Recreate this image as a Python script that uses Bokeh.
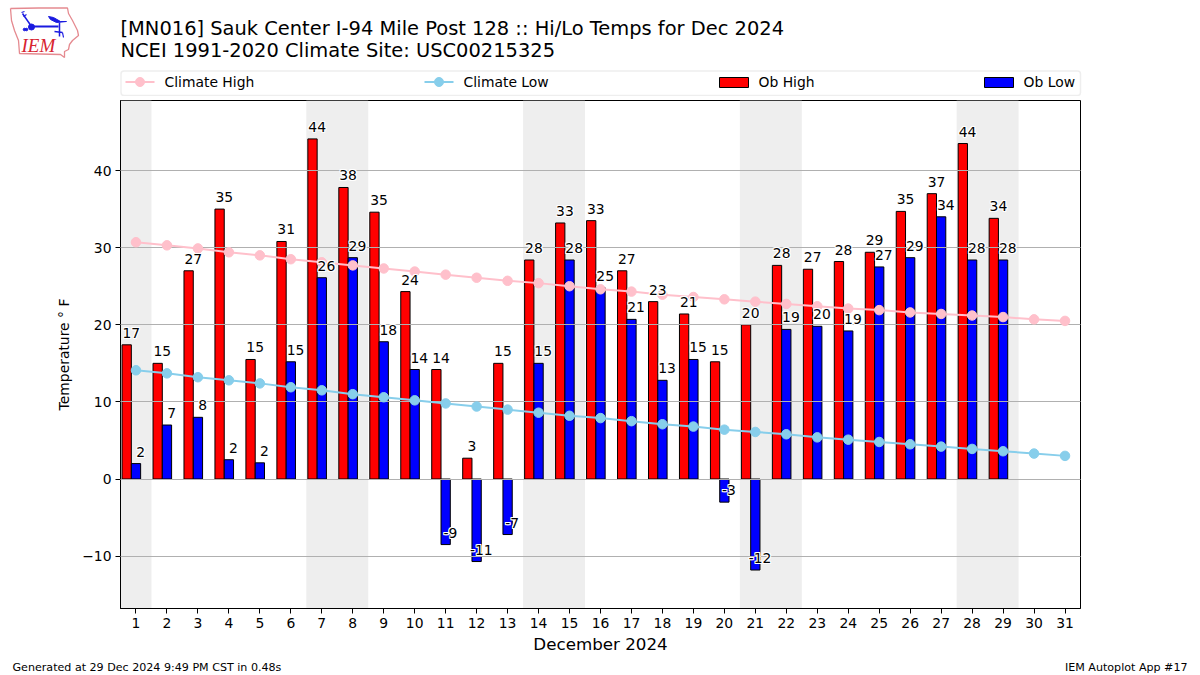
from bokeh.plotting import figure
from bokeh.layouts import column, row
from bokeh.models import Range1d, BoxAnnotation, ColumnDataSource
from bokeh.core.properties import value
from bokeh.embed import file_html
from bokeh.resources import INLINE

FONT = value("DejaVu Sans")

days = list(range(1, 32))
ob_days = list(range(1, 30))
ob_high = [17.4, 15.0, 27.0, 35.0, 15.5, 30.8, 44.1, 37.8, 34.6, 24.3, 14.2, 2.7, 15.0, 28.4, 33.2,
           33.5, 27.0, 23.0, 21.4, 15.2, 20.0, 27.7, 27.2, 28.2, 29.4, 34.7, 37.0, 43.5, 33.8]
ob_low = [2.0, 7.0, 8.0, 2.5, 2.1, 15.2, 26.1, 28.7, 17.8, 14.2, -8.5, -10.7, -7.2, 15.0, 28.4,
          24.8, 20.7, 12.8, 15.5, -3.0, -11.8, 19.4, 19.8, 19.2, 27.5, 28.7, 34.0, 28.4, 28.4]
high_labels = ["17", "15", "27", "35", "15", "31", "44", "38", "35", "24", "14", "3", "15", "28", "33",
               "33", "27", "23", "21", "15", "20", "28", "27", "28", "29", "35", "37", "44", "34"]
low_labels = ["2", "7", "8", "2", "2", "15", "26", "29", "18", "14", "-9", "-11", "-7", "15", "28",
              "25", "21", "13", "15", "-3", "-12", "19", "20", "19", "27", "29", "34", "28", "28"]
climate_high = [30.7, 30.3, 29.9, 29.4, 29.0, 28.5, 28.1, 27.7, 27.3, 26.9, 26.5, 26.1, 25.7, 25.4, 25.0,
                24.6, 24.3, 23.9, 23.6, 23.3, 23.0, 22.7, 22.4, 22.1, 21.9, 21.6, 21.4, 21.2, 21.0, 20.7, 20.5]
climate_low = [14.1, 13.7, 13.2, 12.8, 12.4, 11.9, 11.5, 11.0, 10.6, 10.2, 9.8, 9.4, 9.0, 8.6, 8.2,
               7.9, 7.5, 7.1, 6.8, 6.4, 6.1, 5.8, 5.4, 5.1, 4.8, 4.5, 4.2, 3.9, 3.6, 3.3, 3.0]
weekend_left = [0.5, 6.5, 13.5, 20.5, 27.5]
weekend_right = [1.5, 8.5, 15.5, 22.5, 29.5]
x_ticks = list(range(1, 32))
y_ticks = [-10, 0, 10, 20, 30, 40]

TITLE_1 = "[MN016] Sauk Center I-94 Mile Post 128 :: Hi/Lo Temps for Dec 2024"
TITLE_2 = "NCEI 1991-2020 Climate Site: USC00215325"


def pixel_figure(width, height, x_left, y_top):
    f = figure(width=width, height=height, x_range=Range1d(x_left, x_left + width),
               y_range=Range1d(y_top + height, y_top),
               output_backend="svg", toolbar_location=None, x_axis_location=None, y_axis_location=None,
               min_border=0, outline_line_color=None)
    f.grid.visible = False
    return f


# ---------- header: logo, titles, legend ----------
h = pixel_figure(1200, 96, 0, 0)

outline_x = [10, 38, 67, 68, 72, 77, 78, 72, 69, 68, 64, 64, 60, 19, 18, 14, 11, 10]
outline_y = [8, 7.5, 7.5, 13, 20, 30, 35, 40, 44, 49, 51, 57, 54, 53, 40, 30, 20, 8]
h.line(outline_x, outline_y, line_color="#e58a90", line_width=1.3)
h.line([31, 58], [26, 26], line_color="#1a1ae0", line_width=2)
h.line([31, 22], [26, 13], line_color="#1a1ae0", line_width=1.5)
h.line([21, 24], [12, 11], line_color="#1a1ae0", line_width=1.2)
h.line([23, 26], [16, 14], line_color="#1a1ae0", line_width=1.2)
h.scatter([31], [26.5], size=6, color="#1a1ae0")
h.scatter([24, 26], [29, 29], size=2.5, color="#1a1ae0")
h.patch([48, 53, 60, 66, 56, 50], [16, 17, 21, 21, 22, 19], color="#1a1ae0")
h.line([59, 59], [22, 36], line_color="#1a1ae0", line_width=1.5)
h.line([54, 62], [31, 32], line_color="#1a1ae0", line_width=1.5)
h.line([62, 63], [32, 37], line_color="#1a1ae0", line_width=1.2)
h.text([21], [45], text=["IEM"], text_font=value("Liberation Serif"), text_font_style="italic",
       text_font_size="19px", text_color="#d8232f", text_baseline="alphabetic")

h.text([120, 120], [28, 50], text=[TITLE_1, TITLE_2], text_font=FONT, text_font_size="19.45px",
       text_color="black", text_baseline="alphabetic")

h.add_layout(BoxAnnotation(left=120.5, right=1080, top=70.5, bottom=95, border_radius=3, level="underlay",
                           fill_color="white", fill_alpha=0.8, line_color="#c8c8c8", line_width=1.5))
h.line([125, 154], [81.5, 81.5], line_color="pink", line_width=2)
h.scatter([139.5], [81.5], size=9, color="pink")
h.line([424, 453], [81.5, 81.5], line_color="skyblue", line_width=2)
h.scatter([438.5], [81.5], size=9, color="skyblue")
h.quad(left=[719], right=[748], top=[77], bottom=[87], fill_color="red", line_color="black", line_width=1)
h.quad(left=[984], right=[1013], top=[77], bottom=[87], fill_color="blue", line_color="black", line_width=1)
h.text([164, 463, 758, 1023], [81.5] * 4, text=["Climate High", "Climate Low", "Ob High", "Ob Low"],
       text_font=FONT, text_font_size="13.9px", text_color="black", text_baseline="alphabetic")

# ---------- main chart ----------
p = figure(frame_width=960, frame_height=508, min_border_left=120, min_border_right=120, min_border_top=4,
           min_border_bottom=46, x_range=Range1d(0.5, 31.5), y_range=Range1d(-16.79, 49.08),
           output_backend="svg", toolbar_location=None, outline_line_color="black", outline_line_width=1)

p.quad(left=weekend_left, right=weekend_right, top=49.08, bottom=-16.79, fill_color="#eeeeee", line_color=None,
       level="underlay")

high_src = ColumnDataSource(dict(x=[d - 0.30 for d in ob_days], top=ob_high))
low_src = ColumnDataSource(dict(x=ob_days, top=ob_low))
p.vbar(x="x", top="top", bottom=0, width=0.30, source=high_src, fill_color="red", line_color="black", line_width=1)
p.vbar(x="x", top="top", bottom=0, width=0.30, source=low_src, fill_color="blue", line_color="black", line_width=1)

for series, col in ((climate_high, "pink"), (climate_low, "skyblue")):
    p.line(days, series, line_color=col, line_width=2, level="annotation")
    p.scatter(days, series, size=9.5, color=col, level="annotation")

for dx, vals, labels in ((-0.15, ob_high, high_labels), (0.15, ob_low, low_labels)):
    xs = [d + dx for d in ob_days]
    for ox, oy in ((-1, 0), (1, 0), (0, -1), (0, 1), (-1, -1), (1, -1), (-1, 1), (1, 1)):
        p.text(xs, vals, text=labels, text_font=FONT, text_font_size="13.9px", text_color="white",
               text_align="center", text_baseline="alphabetic", x_offset=ox, y_offset=-12 + oy, level="overlay")
    p.text(xs, vals, text=labels, text_font=FONT, text_font_size="13.9px", text_color="black",
           text_align="center", text_baseline="alphabetic", y_offset=-12, level="overlay")

p.xgrid.visible = False
p.ygrid.ticker = y_ticks
p.ygrid.grid_line_color = "#b0b0b0"
p.ygrid.grid_line_width = 1
p.ygrid.level = "guide"

p.xaxis.ticker = x_ticks
p.yaxis.ticker = y_ticks
for ax in (p.xaxis[0], p.yaxis[0]):
    ax.major_tick_out = 5
    ax.major_tick_in = 0
    ax.minor_tick_out = 0
    ax.minor_tick_in = 0
    ax.axis_line_color = "black"
    ax.major_tick_line_color = "black"
    ax.major_label_text_font = "DejaVu Sans"
    ax.major_label_text_font_size = "13.9px"
    ax.major_label_text_color = "black"
    ax.major_label_standoff = 4
    ax.axis_label_text_font = "DejaVu Sans"
    ax.axis_label_text_font_style = "normal"
    ax.axis_label_text_color = "black"
p.xaxis.axis_label = "December 2024"
p.xaxis.axis_label_text_font_size = "16.7px"
p.xaxis.axis_label_standoff = 3
p.yaxis.axis_label = "Temperature \u00b0 F"
p.yaxis.axis_label_text_font_size = "13.9px"
p.yaxis.axis_label_standoff = 7

# ---------- footer ----------
f = pixel_figure(1200, 21, 0, 654)
f.text([12], [665], text=["Generated at 29 Dec 2024 9:49 PM CST in 0.48s"], text_font=FONT,
       text_font_size="11.1px", text_color="black", text_baseline="alphabetic")
f.text([1187], [665], text=["IEM Autoplot App #17"], text_font=FONT, text_font_size="11.1px",
       text_color="black", text_align="right", text_baseline="alphabetic")

page = column(row(h), p, row(f), spacing=0)
open("out.html", "w").write(file_html(page, INLINE))
